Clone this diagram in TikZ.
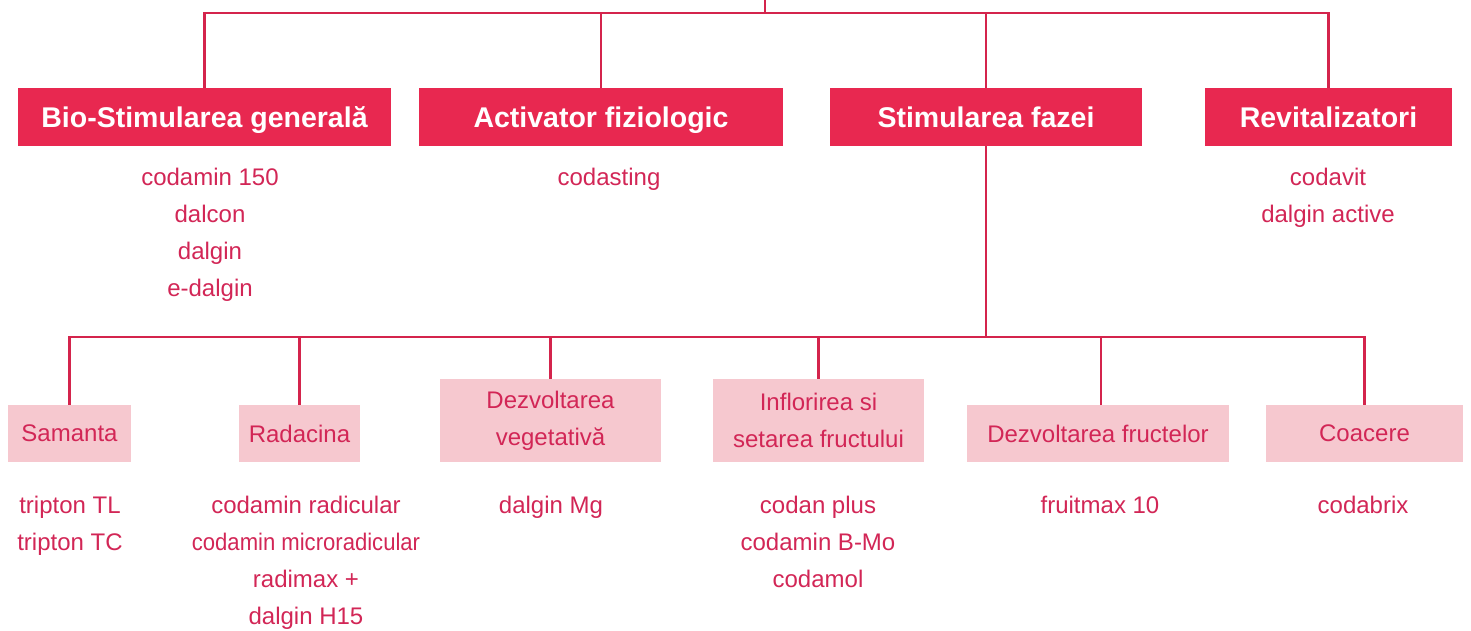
\documentclass[tikz,border=0pt]{standalone}
\usepackage{fontspec}
\setmainfont{Liberation Sans}
\usepackage{xcolor}
\usetikzlibrary{positioning}
\definecolor{codared}{RGB}{232,40,80}
\definecolor{codaline}{RGB}{212,36,76}
\definecolor{codapink}{RGB}{246,200,207}
\definecolor{codatext}{RGB}{210,38,86}

\begin{document}
\begin{tikzpicture}[x=1pt,y=-1pt,
	headbox/.style={fill=codared, text=white, font=\fontsize{28.5}{32}\selectfont\bfseries, minimum height=58pt, text height=26pt, text depth=6pt, inner sep=0pt},
	phasebox/.style={fill=codapink, text=codatext, font=\fontsize{24}{37}\selectfont, align=center, inner sep=0pt},
	prodlist/.style={text=codatext, font=\fontsize{24}{37}\selectfont, align=center, inner sep=0pt, anchor=north},
	branch/.style={draw=codaline, line width=2.5pt}]
			\useasboundingbox (0,0) rectangle (1471,630);
			
			\node[headbox, minimum width=373pt](1) at (204.5,117) {Bio-Stimularea generală};
			\node[headbox, minimum width=364pt](2) at (601,117) {Activator fiziologic};
			\node[headbox, minimum width=312pt](3) at (986,117) {Stimularea fazei};
			\node[headbox, minimum width=247pt](4) at (1328.5,117) {Revitalizatori};
			
			\node[phasebox, minimum width=123pt, minimum height=57pt](31) at (69.5,433.5) {Samanta};
			\node[phasebox, minimum width=121pt, minimum height=57pt](32) at (299.5,433.5) {Radacina};
			\node[phasebox, minimum width=221pt, minimum height=83pt](33) at (550.5,420.5) {Dezvoltarea\\vegetativă};
			\node[phasebox, minimum width=211pt, minimum height=83pt](34) at (818.5,420.5) {Inflorirea si\\setarea fructului};
			\node[phasebox, minimum width=262pt, minimum height=57pt](35) at (1098,433.5) {Dezvoltarea fructelor};
			\node[phasebox, minimum width=197pt, minimum height=57pt](36) at (1364.5,433.5) {Coacere};
			
			\node[prodlist](1a) at (210,168) {codamin 150\\dalcon\\dalgin\\e-dalgin};
			\node[prodlist](2a) at (609,168) {codasting};
			\node[prodlist](4a) at (1328,168) {codavit\\dalgin active};
			\node[prodlist](31a) at (70,496) {tripton TL\\tripton TC};
			\node[prodlist](32a) at (306,496) {codamin radicular\\\scalebox{0.92}[1]{codamin microradicular}\\radimax +\\dalgin H15};
			\node[prodlist](33a) at (551,496) {dalgin Mg};
			\node[prodlist](34a) at (818,496) {codan plus\\codamin B-Mo\\codamol};
			\node[prodlist](35a) at (1100,496) {fruitmax 10};
			\node[prodlist](36a) at (1363,496) {codabrix};
			
			\coordinate (root) at (765,0);
			\coordinate (rj) at (765,13);
			\coordinate (fj) at (986,337);
			
			\draw[branch] (root) -- (rj);
			\draw[branch] (1.north) |- (rj) -| (4.north);
			\draw[branch] (2.north) -- (2.north |- rj);
			\draw[branch] (3.north) -- (3.north |- rj);
			
			\draw[branch] (3.south) -- (fj);
			\draw[branch] (31.north) |- (fj) -| (36.north);
			\draw[branch] (32.north) -- (32.north |- fj);
			\draw[branch] (33.north) -- (33.north |- fj);
			\draw[branch] (34.north) -- (34.north |- fj);
			\draw[branch] ([xshift=3pt]35.north) -- ([xshift=3pt]35.north |- fj);
		\end{tikzpicture}
\end{document}
